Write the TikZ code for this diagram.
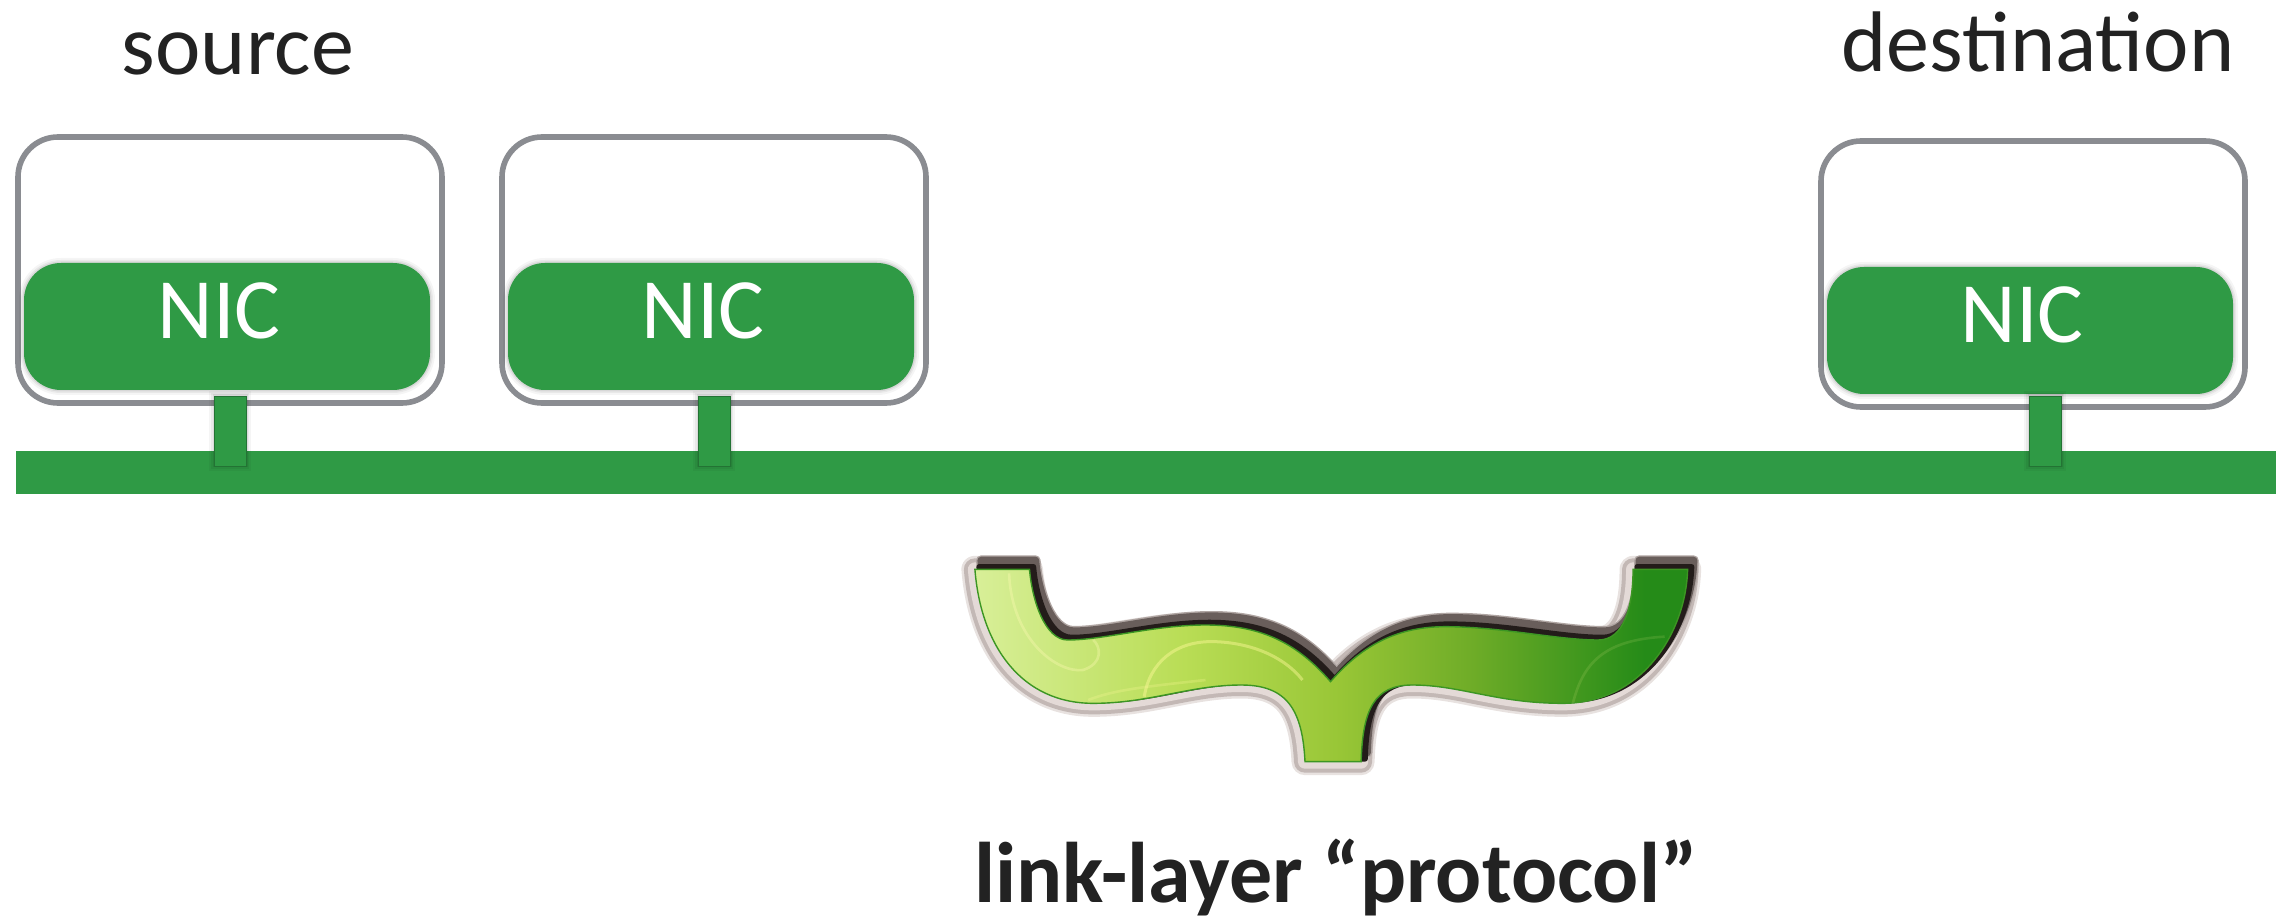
\documentclass[tikz,border=0pt]{standalone}
\usepackage{fontspec}
\setmainfont{Carlito}
\definecolor{nicgreen}{HTML}{2F9A45}
\definecolor{edgegray}{HTML}{8A8C91}
\definecolor{inktext}{HTML}{222222}
\definecolor{braceA}{HTML}{D8EF98}
\definecolor{braceB}{HTML}{B9DD55}
\definecolor{braceC}{HTML}{98C636}
\definecolor{braceD}{HTML}{70AD28}
\definecolor{braceE}{HTML}{258B18}
\definecolor{haloA}{RGB}{232,226,224}
\definecolor{haloB}{RGB}{195,184,181}
\definecolor{haloC}{RGB}{228,218,215}
\definecolor{duskA}{RGB}{175,165,162}
\definecolor{duskB}{RGB}{105,94,91}
\definecolor{duskC}{RGB}{35,28,26}
\pgfdeclarehorizontalshading{braceg}{100bp}{
  color(0bp)=(braceA); color(25bp)=(braceA); color(39.7bp)=(braceB); color(50.6bp)=(braceC);
  color(59.6bp)=(braceD); color(72bp)=(braceE); color(100bp)=(braceE)}
\tikzset{
  softedge/.style={
    preaction={draw=black,draw opacity=.04,line width=5pt},
    preaction={draw=black,draw opacity=.05,line width=3pt},
    preaction={draw=black,draw opacity=.07,line width=1.5pt}},
  hostbox/.style={draw=edgegray,line width=2.8pt,fill=white,rounded corners=20pt,
    minimum width=212pt,minimum height=133pt,inner sep=0pt,outer sep=0pt},
  nicbox/.style={softedge,fill=nicgreen,rounded corners=18.5pt,
    minimum width=203pt,minimum height=63.5pt,inner sep=0pt,outer sep=0pt},
  stub/.style={softedge,fill=nicgreen,draw=nicgreen!75!black,line width=.3pt,
    minimum width=16pt,minimum height=35pt,inner sep=0pt,outer sep=0pt},
  bus/.style={fill=nicgreen,minimum width=1130pt,minimum height=21.5pt,
    inner sep=0pt,outer sep=0pt},
  nictext/.style={text=white,font=\fontsize{43pt}{47pt}\selectfont,anchor=base,inner sep=0pt},
  plaintext/.style={text=inktext,font=\fontsize{43pt}{47pt}\selectfont,anchor=base,inner sep=0pt},
  boldtext/.style={text=inktext,font=\bfseries\fontsize{43pt}{47pt}\selectfont,anchor=base,inner sep=0pt}
}
\newcommand{\bracepath}{
  (88,118) -- (195,118)
  .. controls (200,210) and (225,330) .. (270,330)
  .. controls (340,330) and (440,285) .. (540,285)
  .. controls (650,285) and (720,340) .. (785,455)
  .. controls (850,340) and (920,290) .. (1010,290)
  .. controls (1120,290) and (1230,330) .. (1310,330)
  .. controls (1360,330) and (1378,230) .. (1378,118)
  -- (1485,118)
  .. controls (1482,300) and (1400,520) .. (1240,520)
  .. controls (1110,520) and (1040,465) .. (945,465)
  .. controls (870,465) and (848,540) .. (845,695)
  -- (735,695)
  .. controls (730,540) and (700,465) .. (610,465)
  .. controls (510,465) and (430,520) .. (320,520)
  .. controls (180,520) and (100,350) .. (88,118) -- cycle}
\begin{document}
\begin{tikzpicture}[x=.5pt,y=-.5pt]
\useasboundingbox (0,0) rectangle (2276,919);
% hosts
\node[hostbox] (hostA) at (230,270) {};
\node[hostbox] (hostB) at (714,270) {};
\node[hostbox] (hostC) at (2033,274) {};
\node[nicbox] (nicA) at (227,326.5) {};
\node[nicbox] (nicB) at (711,326.5) {};
\node[nicbox] (nicC) at (2030,330.5) {};
\node[nictext] (labA) at (219,339) {NIC};
\node[nictext] (labB) at (703,339) {NIC};
\node[nictext] (labC) at (2022,343) {NIC};
% bus and stubs
\node[bus] (wire) at (1146,472.5) {};
\node[stub] (stubA) at (230,431) {};
\node[stub] (stubB) at (714,431) {};
\node[stub] (stubC) at (2045,431) {};
% captions
\node[plaintext] (src) at (238,75) {source};
\node[plaintext] (dst) at (2038,72) {destination};
\node[boldtext] (cap) at (1336,902) {link-layer “protocol”};
% brace
\begin{scope}[shift={(930,530)},x=.2551pt,y=-.16667pt]
  \draw[line join=round,draw=haloA,line width=13.5pt] \bracepath;
  \draw[line join=round,draw=haloB,line width=11pt] \bracepath;
  \draw[line join=round,draw=haloC,line width=7pt] \bracepath;
  \begin{scope}[shift={(12,-27)}]
    \filldraw[line join=round,fill=duskB,draw=duskA,line width=5pt] \bracepath;
    \filldraw[line join=round,fill=duskB,draw=duskB,line width=3.6pt] \bracepath;
  \end{scope}
  \begin{scope}[shift={(8,-8)}]
    \filldraw[line join=round,fill=duskC,draw=duskC,line width=2.6pt] \bracepath;
  \end{scope}
  \shade[shading=braceg,draw={rgb,255:red,60;green,150;blue,35},line width=.7pt] \bracepath;
  \begin{scope}
    \clip \bracepath;
    \draw[white!70!yellow,opacity=.35,line width=1.3pt]
      (155,130) .. controls (160,330) and (250,430) .. (300,420) .. controls (340,400) and (335,350) .. (320,330);
    \draw[white!60!yellow,opacity=.45,line width=1.5pt]
      (420,500) .. controls (430,400) and (480,330) .. (560,335) .. controls (640,340) and (700,390) .. (730,450);
    \draw[white!60!yellow,opacity=.25,line width=1.3pt]
      (310,510) .. controls (360,480) and (420,470) .. (540,450);
    \draw[white!60!yellow,opacity=.12,line width=1.3pt]
      (1260,520) .. controls (1280,400) and (1320,330) .. (1440,320);
  \end{scope}
\end{scope}
\end{tikzpicture}
\end{document}
